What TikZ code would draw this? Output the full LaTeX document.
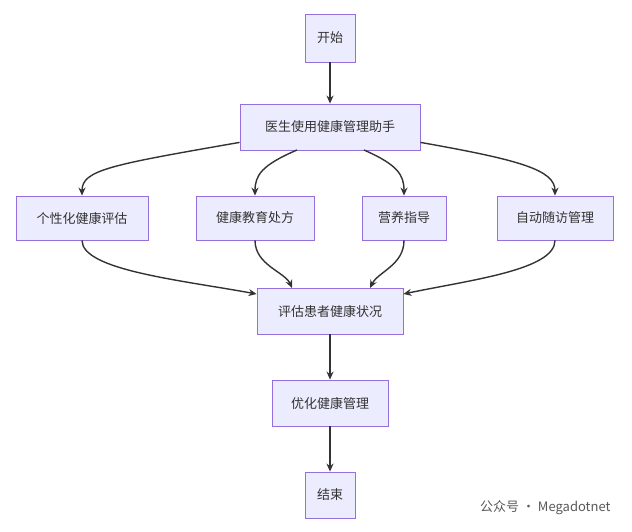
\documentclass[tikz,border=0pt]{standalone}
\usepackage{fontspec}
\setmainfont{Noto Sans CJK SC}
\usetikzlibrary{arrows.meta}
\definecolor{nf}{HTML}{ECECFF}
\definecolor{nb}{HTML}{9370DB}
\definecolor{ln}{HTML}{333333}
\begin{document}
\begin{tikzpicture}[x=1pt,y=-1pt,
  box/.style={draw=nb,fill=nf,line width=0.8pt,minimum height=46pt,inner xsep=12pt,font=\fontsize{13}{15}\selectfont,text=ln},
  ar/.style={draw=ln,line width=1.4pt,-{Stealth[length=8pt,width=7pt]}}]
\useasboundingbox (0,0) rectangle (632,532);
\node[box,minimum width=50pt,minimum height=48pt] (s) at (330,38) {开始};
\node[box,minimum width=180pt] (d) at (330,127) {医生使用健康管理助手};
\node[box,minimum width=132pt,minimum height=44pt] (a) at (82,218) {个性化健康评估};
\node[box,minimum width=118pt,minimum height=44pt] (b) at (255,218) {健康教育处方};
\node[box,minimum width=84pt,minimum height=44pt] (c) at (404,218) {营养指导};
\node[box,minimum width=116pt,minimum height=44pt] (e) at (555,218) {自动随访管理};
\node[box,minimum width=146pt] (p) at (330,311) {评估患者健康状况};
\node[box,minimum width=116pt] (o) at (330,403) {优化健康管理};
\node[box,minimum width=50pt] (f) at (330,495) {结束};
\draw[ar] (s) -- (d);
\draw[ar] (d.south west) ++(0,-8) .. controls (110,165) and (82,170) .. (a.north);
\draw[ar] (297,150) .. controls (262,165) and (255,175) .. (b.north);
\draw[ar] (364,150) .. controls (398,165) and (404,175) .. (c.north);
\draw[ar] (d.south east) ++(0,-8) .. controls (520,160) and (555,170) .. (e.north);
\draw[ar] (a.south) .. controls (82,270) and (180,280) .. (p.west |- 0,294);
\draw[ar] (b.south) .. controls (255,265) and (285,272) .. (292,288);
\draw[ar] (c.south) .. controls (404,265) and (378,272) .. (370,288);
\draw[ar] (e.south) .. controls (555,270) and (470,280) .. (p.east |- 0,294);
\draw[ar] (p) -- (o);
\draw[ar] (o) -- (f);
\node[text=black!65,font=\fontsize{13}{15}\selectfont,anchor=east] (w) at (614,508) {公众号 · Megadotnet};
\end{tikzpicture}
\end{document}
